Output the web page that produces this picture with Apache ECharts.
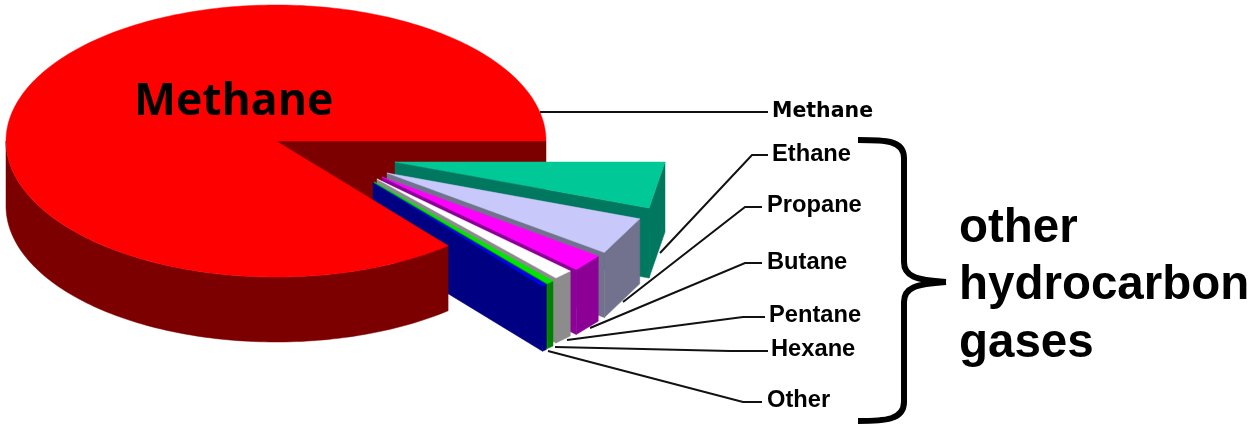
<!DOCTYPE html>
<html><head><meta charset="utf-8">
<style>html,body{margin:0;padding:0;background:#fff}#c{width:1255px;height:425px}</style>
<script src="https://cdn.jsdelivr.net/npm/echarts@6/dist/echarts.min.js"></script>
</head><body><div id="c"></div>
<script>
// Data (percent of natural gas)
const categories = ['Methane','Ethane','Propane','Butane','Pentane','Hexane','Other'];
const values = [86,5.5,4.5,2.05,1.2,0.45,0.3];
const bracketLines = ['other','hydrocarbon','gases'];
const centerLabel = 'Methane';

// Styles and layout
const topColors = ['#ff0000','#00c896','#c8c8fa','#ff00ff','#ffffff','#00e600','#0000f0'];
const sideColors = ['#7d0000','#007860','#72728e','#8c0096','#8c8c8c','#008200','#000082'];
const explode = [[0,0],[119,21],[111,32],[106,36],[101,38],[98,41],[97,42]];
const radiusScale = [1,1,0.995,0.99,0.985,0.985,0.985];
const depths = [65,70,65,65,65,65,65];
const pie = {cx:276, cy:141, rx:270, ry:136};
const labelPos = [[772,112],[772,154.5],[767,205.5],[767,262.5],[769,315.5],[771,349.5],[767,400.5]];
const leaders = [
  [[540,112],[768,112]],
  [[660,253],[752,155],[768,155]],
  [[623,302],[745,207],[762,207]],
  [[590,328],[745,263],[762,263]],
  [[567,340],[743,317],[765,317]],
  [[555,347],[730,351],[768,351]],
  [[548,351],[743,402],[762,402]]
];

const total = values.reduce((a,b)=>a+b,0);
const spans = [];
let acc = 0;
for (let i=1;i<values.length;i++){ spans[i]=[acc, acc+values[i]/total*2*Math.PI]; acc=spans[i][1]; }
spans[0]=[acc, 2*Math.PI];

function pt(i,t,dz){ const e=explode[i], s=radiusScale[i];
  return [pie.cx+e[0]+s*pie.rx*Math.cos(t), pie.cy+e[1]+s*pie.ry*Math.sin(t)+(dz||0)]; }
// Exploded slices have straight outer edges in the source drawing; the main pie is curved.
function arc(i,a,b,dz){ const n=i===0?Math.max(2,Math.ceil(Math.abs(b-a)/0.02)):1, out=[];
  for(let k=0;k<=n;k++) out.push(pt(i,a+(b-a)*k/n,dz)); return out; }
function poly(points,fill){ return {type:'polygon',shape:{points},style:{fill,stroke:fill,lineWidth:0.5}}; }
function apex(i,dz){ const e=explode[i]; return [pie.cx+e[0],pie.cy+e[1]+(dz||0)]; }

function renderSlice(params,api){
  const i=api.value(0), [a,b]=spans[i], d=depths[i], children=[];
  if(i===0){
    children.push(poly(arc(0,a,Math.PI).concat(arc(0,Math.PI,a,d)),sideColors[0]));
    children.push(poly([apex(0)].concat(arc(0,a,b)),topColors[0]));
  } else {
    children.push(poly(arc(i,a,b).concat(arc(i,b,a,d)),sideColors[i]));
    const e=pt(i,b);
    children.push(poly([apex(i),e,[e[0],e[1]+d],apex(i,d)],sideColors[i]));
    children.push(poly([apex(i)].concat(arc(i,a,b)),topColors[i]));
  }
  return {type:'group',children};
}
function renderBackWall(){
  const e=pt(0,0);
  return poly([apex(0),e,[e[0],e[1]+depths[0]],apex(0,depths[0])],sideColors[0]);
}

const thinFont='"Liberation Sans",Arial,sans-serif';
const graphics=[];
leaders.forEach(l=>graphics.push({type:'polyline',shape:{points:l},style:{stroke:'#111',lineWidth:2,fill:null},z:10}));
categories.forEach((c,i)=>graphics.push({type:'text',x:labelPos[i][0],y:labelPos[i][1],z:11,
  style:{text:c,fill:'#000',verticalAlign:'middle',
    font:i===0?'bold 20.5px "DejaVu Sans"':'bold 23.7px '+thinFont}}));
graphics.push({type:'text',x:134,y:102,z:11,style:{text:centerLabel,fill:'#000',verticalAlign:'middle',font:'bold 44.5px "Open Sans"'}});
bracketLines.forEach((t,i)=>graphics.push({type:'text',x:959,y:228.5+i*57.5,z:11,style:{text:t,fill:'#000',verticalAlign:'middle',font:'bold 47.5px '+thinFont}}));
const braceStyle={fill:null,stroke:'#000',lineWidth:6};
[
  {x1:858,y1:140,cpx1:885,cpy1:140,cpx2:904,cpy2:140,x2:904,y2:158},
  {x1:904,y1:262,cpx1:904,cpy1:276,cpx2:915,cpy2:280,x2:946,y2:282},
  {x1:946,y1:282,cpx1:915,cpy1:284,cpx2:904,cpy2:288,x2:904,y2:302},
  {x1:904,y1:402,cpx1:904,cpy1:420,cpx2:885,cpy2:421,x2:858,y2:421}
].forEach(shape=>graphics.push({type:'bezierCurve',z:10,shape,style:braceStyle}));
graphics.push({type:'line',z:10,shape:{x1:904,y1:158,x2:904,y2:262},style:braceStyle});
graphics.push({type:'line',z:10,shape:{x1:904,y1:302,x2:904,y2:402},style:braceStyle});

const chart=echarts.init(document.getElementById('c'),null,{renderer:'canvas'});
chart.setOption({
  animation:false, backgroundColor:'#fff',
  series:[
    {type:'custom',coordinateSystem:'none',renderItem:renderBackWall,data:[[0]],silent:true},
    {type:'custom',coordinateSystem:'none',renderItem:renderSlice,silent:true,
     data:[1,2,3,4,5,6,0].map(i=>({name:categories[i],value:[i,values[i]]})),encode:{value:1}}
  ],
  graphic:graphics
});
</script></body></html>
